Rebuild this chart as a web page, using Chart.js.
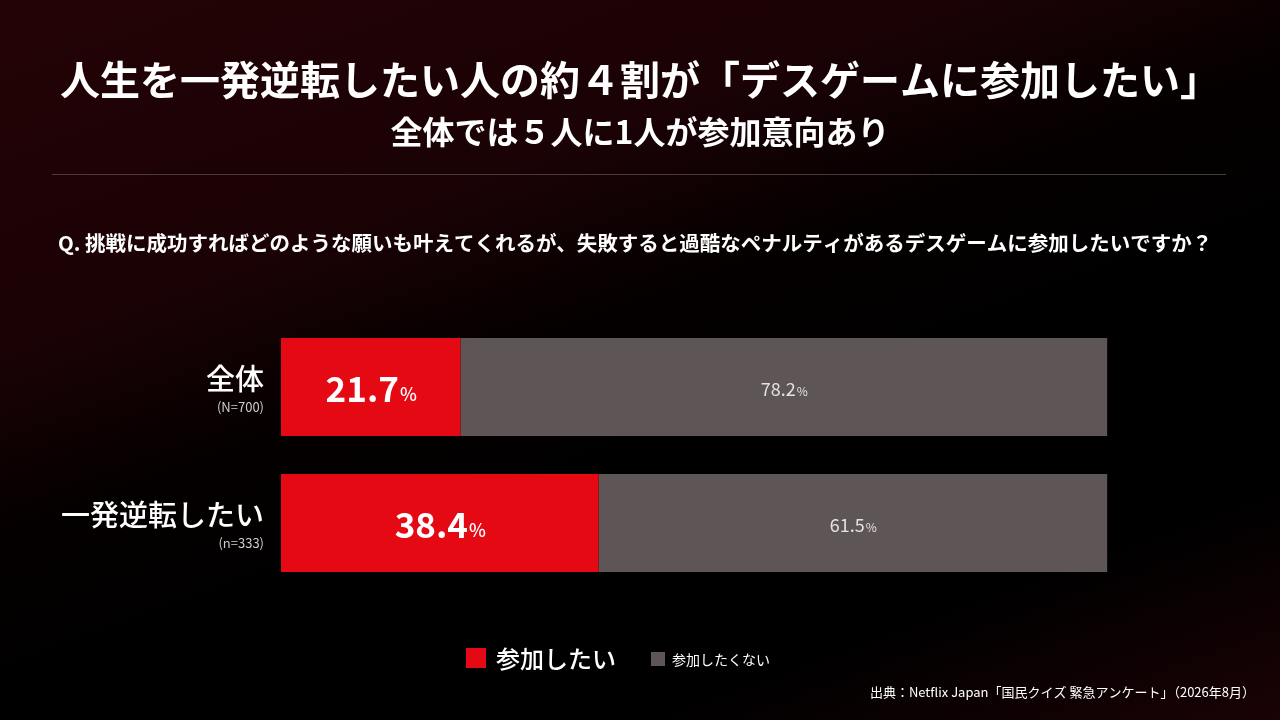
<!DOCTYPE html>
<html><head><meta charset="utf-8">
<script src="https://cdn.jsdelivr.net/npm/chart.js@4"></script>
<style>
  html, body { margin:0; width:1280px; height:720px; overflow:hidden; }
  body { background: linear-gradient(160deg, #240306 0%, #1a0205 30%, #050000 45%, #000 60%, #000 80%, #1a0205 100%); }
  #wrap { position:absolute; left:0; top:0; width:1280px; height:720px; }
</style></head>
<body>
<div id="wrap"><canvas id="c" width="1280" height="720"></canvas></div>
<script>
const categories = ["全体", "一発逆転したい"];
const sampleSizes = ["(N=700)", "(n=333)"];
const yesValues = [21.7, 38.4];
const noValues = [78.2, 61.5];
const seriesNames = ["参加したい", "参加したくない"];
const FONT = "'Noto Sans CJK JP', 'Noto Sans', sans-serif";

const decor = {
  id: "decor",
  afterDraw(chart) {
    const ctx = chart.ctx;
    const y = chart.scales.y;
    ctx.save();
    ctx.fillStyle = "#fff";
    ctx.textAlign = "center";
    ctx.textBaseline = "middle";
    ctx.font = "bold 40px " + FONT;
    ctx.fillText("人生を一発逆転したい人の約４割が「デスゲームに参加したい」", 640, 80);
    ctx.font = "bold 32px " + FONT;
    ctx.fillText("全体では５人に1人が参加意向あり", 640, 132);
    ctx.strokeStyle = "#4a3a3c"; ctx.lineWidth = 1;
    ctx.beginPath(); ctx.moveTo(52, 174.5); ctx.lineTo(1226, 174.5); ctx.stroke();
    ctx.textAlign = "left";
    ctx.font = "bold 20.5px " + FONT;
    ctx.fillText("Q. 挑戦に成功すればどのような願いも叶えてくれるが、失敗すると過酷なペナルティがあるデスゲームに参加したいですか？", 58, 243);

    // category labels
    ctx.textAlign = "right";
    categories.forEach((c, i) => {
      const cy = y.getPixelForValue(i);
      ctx.font = "500 29px " + FONT;
      ctx.fillStyle = "#fff";
      ctx.fillText(c, 264, cy - 8);
      ctx.font = "13px " + FONT;
      ctx.fillStyle = "#ccc";
      ctx.fillText(sampleSizes[i], 264, cy + 20);
    });

    // value labels
    chart.data.datasets.forEach((ds, di) => {
      chart.getDatasetMeta(di).data.forEach((bar, i) => {
        const cx = (bar.base + bar.x) / 2, cy = bar.y;
        const num = ds.data[i].toFixed(1);
        const big = di === 0 ? "600 35px " : "18px ";
        const small = di === 0 ? "500 18px " : "12px ";
        ctx.font = big + FONT; const w1 = ctx.measureText(num).width;
        ctx.font = small + FONT; const w2 = ctx.measureText("%").width;
        const sx = cx - (w1 + w2) / 2;
        ctx.fillStyle = di === 0 ? "#fff" : "#e6e0e0";
        ctx.textAlign = "left";
        ctx.font = big + FONT; ctx.fillText(num, sx, cy + 2);
        ctx.font = small + FONT; ctx.fillText("%", sx + w1 + 1, cy + (di === 0 ? 7 : 4));
      });
    });

    // legend
    ctx.fillStyle = "#e50914"; ctx.fillRect(466, 648, 20, 20);
    ctx.fillStyle = "#fff"; ctx.font = "500 24px " + FONT; ctx.textAlign = "left";
    ctx.fillText(seriesNames[0], 496, 659);
    ctx.fillStyle = "#5e5656"; ctx.fillRect(651, 652, 14, 14);
    ctx.fillStyle = "#fff"; ctx.font = "14px " + FONT;
    ctx.fillText(seriesNames[1], 672, 660);

    ctx.textAlign = "right"; ctx.font = "13px " + FONT;
    ctx.fillText("出典：Netflix Japan「国民クイズ 緊急アンケート」（2026年8月）", 1255, 692);
    ctx.restore();
  }
};

new Chart(document.getElementById("c"), {
  type: "bar",
  data: {
    labels: categories,
    datasets: [
      { label: seriesNames[0], data: yesValues, backgroundColor: "#e50914" },
      { label: seriesNames[1], data: noValues, backgroundColor: "#5e5656" }
    ]
  },
  options: {
    indexAxis: "y",
    responsive: false,
    animation: false,
    layout: { padding: { left: 281, right: 172, top: 319, bottom: 129 } },
    datasets: { bar: { barPercentage: 1, categoryPercentage: 0.72, borderWidth: 0 } },
    scales: {
      x: { stacked: true, min: 0, max: 100, display: false },
      y: { stacked: true, display: false }
    },
    plugins: { legend: { display: false }, tooltip: { enabled: false } }
  },
  plugins: [decor]
});
</script>
</body></html>
